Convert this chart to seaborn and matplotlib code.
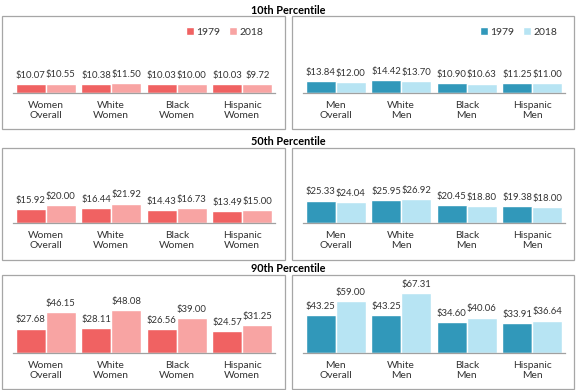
import matplotlib
matplotlib.use("Agg")
import matplotlib.pyplot as plt
from matplotlib.patches import Rectangle
import seaborn as sns
import pandas as pd

# ---------------- data ----------------
women_cats = ["Women\nOverall", "White\nWomen", "Black\nWomen", "Hispanic\nWomen"]
men_cats = ["Men\nOverall", "White\nMen", "Black\nMen", "Hispanic\nMen"]
years = ["1979", "2018"]
row_titles = ["10th Percentile", "50th Percentile", "90th Percentile"]

w10_1979 = [10.07, 10.38, 10.03, 10.03]
w10_2018 = [10.55, 11.50, 10.00, 9.72]
m10_1979 = [13.84, 14.42, 10.90, 11.25]
m10_2018 = [12.00, 13.70, 10.63, 11.00]

w50_1979 = [15.92, 16.44, 14.43, 13.49]
w50_2018 = [20.00, 21.92, 16.73, 15.00]
m50_1979 = [25.33, 25.95, 20.45, 19.38]
m50_2018 = [24.04, 26.92, 18.80, 18.00]

w90_1979 = [27.68, 28.11, 26.56, 24.57]
w90_2018 = [46.15, 48.08, 39.00, 31.25]
m90_1979 = [43.25, 43.25, 34.60, 33.91]
m90_2018 = [59.00, 67.31, 40.06, 36.64]

women_colors = ["#F06262", "#F8A4A3"]
men_colors = ["#3198BA", "#B7E4F3"]

# ---------------- layout (pixels) ----------------
W, H = 576, 390
sns.set_theme(style="white")
plt.rcParams["font.family"] = ["Lato", "DejaVu Sans"]

fig = plt.figure(figsize=(W / 100, H / 100), dpi=100)
fig.patch.set_facecolor("white")

panel_x = [(2, 285), (292, 574)]
axis_x = [(13, 275), (303, 565)]
panel_y = [(16, 129), (148, 260), (275, 389)]
baselines = [93, 223, 353]
title_y = [10, 141, 269]
ymax = 80
px_per_unit = 0.885
ax_h = ymax * px_per_unit

rows = [
    [(women_cats, w10_1979, w10_2018, women_colors), (men_cats, m10_1979, m10_2018, men_colors)],
    [(women_cats, w50_1979, w50_2018, women_colors), (men_cats, m50_1979, m50_2018, men_colors)],
    [(women_cats, w90_1979, w90_2018, women_colors), (men_cats, m90_1979, m90_2018, men_colors)],
]

border_col = "#A6A6A6"
text_col = "#333333"

for r, row in enumerate(rows):
    fig.text(288 / W, 1 - title_y[r] / H, row_titles[r], ha="center", va="center",
             fontsize=7.8, fontweight="bold", color="black")
    for c, (cats, v79, v18, cols) in enumerate(row):
        # panel border
        x0, x1 = panel_x[c]
        y0, y1 = panel_y[r]
        fig.add_artist(Rectangle((x0 / W, 1 - y1 / H), (x1 - x0) / W, (y1 - y0) / H,
                                 transform=fig.transFigure, fill=False,
                                 edgecolor=border_col, lw=0.9))
        ax0, ax1 = axis_x[c]
        base = baselines[r]
        ax = fig.add_axes([ax0 / W, 1 - base / H, (ax1 - ax0) / W, ax_h / H])
        ax.patch.set_alpha(0)
        df = pd.DataFrame({
            "cat": cats * 2,
            "year": [years[0]] * 4 + [years[1]] * 4,
            "value": list(v79) + list(v18),
        })
        sns.barplot(data=df, x="cat", y="value", hue="year", hue_order=years,
                    order=cats, palette=cols, saturation=1, width=0.92, gap=0,
                    errorbar=None, ax=ax, legend=(r == 0))
        for cont in ax.containers:
            ax.bar_label(cont, fmt="${:.2f}", padding=3, fontsize=6.8, color=text_col)
        ax.set_xlim(-0.5, 3.5)
        ax.set_ylim(0, ymax)
        ax.set_xlabel("")
        ax.set_ylabel("")
        ax.set_yticks([])
        for s in ["left", "right", "top"]:
            ax.spines[s].set_visible(False)
        ax.spines["bottom"].set_color("#A0A0A0")
        ax.spines["bottom"].set_linewidth(0.9)
        ax.set_xticks(range(4))
        ax.set_xticklabels(cats, fontsize=7.4, color=text_col, linespacing=1.15)
        ax.tick_params(axis="x", which="major", length=0, pad=6)
        ax.set_xticks([-0.5, 0.5, 1.5, 2.5, 3.5], minor=True)
        ax.tick_params(axis="x", which="minor", length=3, width=0.9,
                       color="#A0A0A0", direction="out")
        if r == 0:
            handles, labels = ax.get_legend_handles_labels()
            if ax.get_legend() is not None:
                ax.get_legend().remove()
            right_px = 269 if c == 0 else 563
            ax.legend(handles, labels, ncol=2, loc="center right",
                      bbox_to_anchor=(right_px / W, 1 - 32 / H),
                      bbox_transform=fig.transFigure, frameon=False,
                      fontsize=7.5, handlelength=0.75, handleheight=0.75,
                      handletextpad=0.3, columnspacing=0.8, borderpad=0,
                      labelcolor=text_col)

fig.savefig("out.png", dpi=100, facecolor="white")
